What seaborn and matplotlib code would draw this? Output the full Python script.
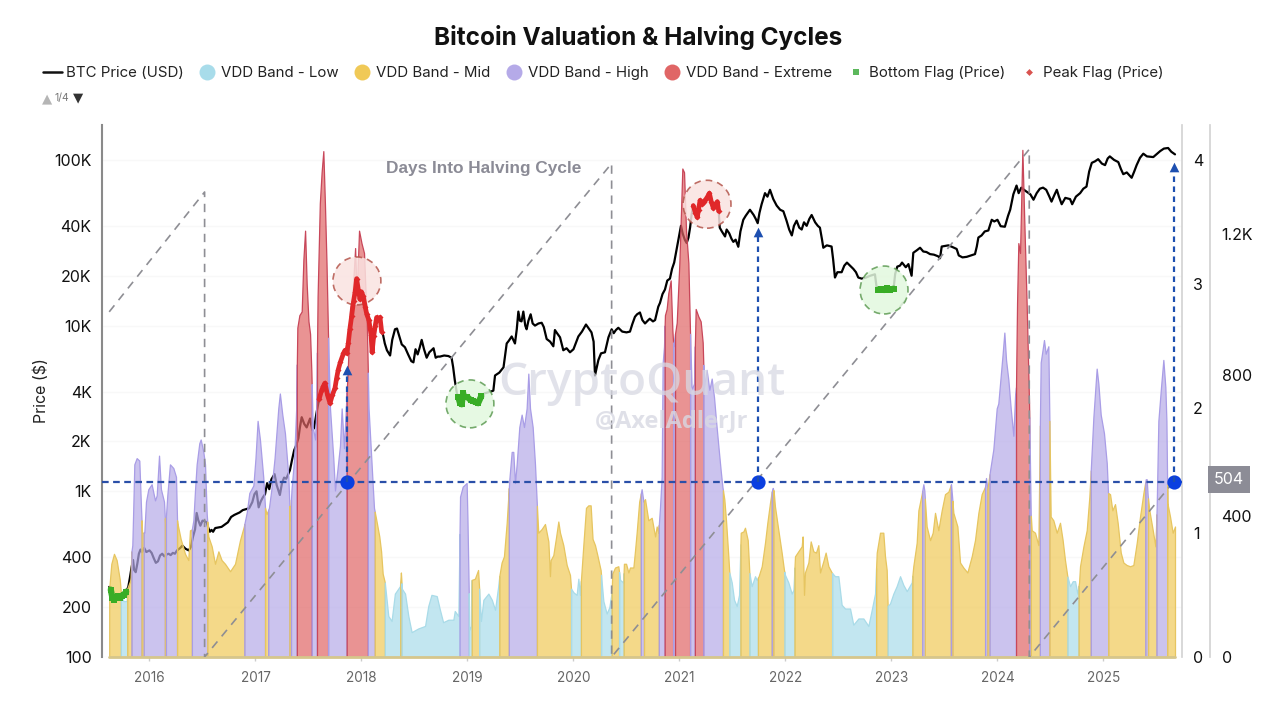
import numpy as np
import seaborn as sns
import matplotlib
matplotlib.use('Agg')
import matplotlib.pyplot as plt
from matplotlib.colors import to_rgba
from matplotlib.lines import Line2D
from matplotlib.ticker import FixedLocator, NullLocator

# BTC price (decimal year / USD)
price_years = [
    2015.62, 2015.635, 2015.65, 2015.665, 2015.68, 2015.70, 2015.72, 2015.74, 2015.76, 2015.78,
    2015.80, 2015.815, 2015.83, 2015.845, 2015.855, 2015.87, 2015.885, 2015.90, 2015.915, 2015.93,
    2015.95, 2015.97, 2016.0, 2016.02, 2016.04, 2016.06, 2016.08, 2016.10, 2016.12, 2016.14,
    2016.16, 2016.18, 2016.20, 2016.22, 2016.24, 2016.26, 2016.29, 2016.31, 2016.34, 2016.37,
    2016.39, 2016.41, 2016.43, 2016.445, 2016.46, 2016.48, 2016.50, 2016.52, 2016.54, 2016.555,
    2016.57, 2016.585, 2016.60, 2016.62, 2016.65, 2016.68, 2016.71, 2016.74, 2016.77, 2016.80,
    2016.85, 2016.88, 2016.91, 2016.94, 2016.97, 2016.99, 2017.01, 2017.03, 2017.05, 2017.07,
    2017.09, 2017.11, 2017.13, 2017.15, 2017.18, 2017.20, 2017.23, 2017.25, 2017.27, 2017.29,
    2017.325, 2017.345, 2017.365, 2017.385, 2017.405, 2017.42, 2017.436, 2017.46, 2017.483, 2017.50,
    2017.515, 2017.535, 2017.552, 2017.565, 2017.577, 2017.60, 2017.624, 2017.64, 2017.655, 2017.68,
    2017.703, 2017.725, 2017.75, 2017.765, 2017.78, 2017.80, 2017.83, 2017.845, 2017.86, 2017.875,
    2017.89, 2017.907, 2017.925, 2017.94, 2017.954, 2017.97, 2017.986, 2018.0, 2018.017, 2018.035,
    2018.05, 2018.07, 2018.09, 2018.10, 2018.115, 2018.13, 2018.143, 2018.16, 2018.175, 2018.19,
    2018.205, 2018.22, 2018.24, 2018.27, 2018.29, 2018.316, 2018.335, 2018.36, 2018.38, 2018.41,
    2018.44, 2018.47, 2018.49, 2018.51, 2018.53, 2018.55, 2018.568, 2018.59, 2018.615, 2018.64,
    2018.68, 2018.70, 2018.72, 2018.74, 2018.78, 2018.82, 2018.85, 2018.865, 2018.88, 2018.90,
    2018.914, 2018.93, 2018.945, 2018.96, 2018.98, 2019.0, 2019.03, 2019.055, 2019.08, 2019.10,
    2019.13, 2019.16, 2019.19, 2019.22, 2019.244, 2019.26, 2019.30, 2019.34, 2019.37, 2019.39,
    2019.417, 2019.448, 2019.465, 2019.48, 2019.495, 2019.51, 2019.527, 2019.545, 2019.558, 2019.575,
    2019.596, 2019.615, 2019.637, 2019.67, 2019.70, 2019.72, 2019.747, 2019.78, 2019.81, 2019.825,
    2019.845, 2019.873, 2019.904, 2019.935, 2019.967, 2020.0, 2020.03, 2020.046, 2020.08, 2020.118,
    2020.14, 2020.17, 2020.19, 2020.203, 2020.22, 2020.235, 2020.26, 2020.297, 2020.33, 2020.36,
    2020.38, 2020.40, 2020.423, 2020.46, 2020.50, 2020.533, 2020.555, 2020.58, 2020.60, 2020.627,
    2020.65, 2020.675, 2020.70, 2020.72, 2020.75, 2020.77, 2020.80, 2020.816, 2020.84, 2020.863,
    2020.885, 2020.91, 2020.93, 2020.95, 2020.974, 2020.99, 2021.014, 2021.03, 2021.05, 2021.068,
    2021.085, 2021.10, 2021.115, 2021.13, 2021.15, 2021.168, 2021.18, 2021.194, 2021.215, 2021.23,
    2021.25, 2021.265, 2021.282, 2021.30, 2021.32, 2021.34, 2021.357, 2021.37, 2021.38, 2021.40,
    2021.43, 2021.445, 2021.47, 2021.49, 2021.508, 2021.53, 2021.555, 2021.575, 2021.602, 2021.625,
    2021.665, 2021.70, 2021.72, 2021.738, 2021.755, 2021.775, 2021.79, 2021.807, 2021.83, 2021.854,
    2021.885, 2021.917, 2021.95, 2021.98, 2022.01, 2022.035, 2022.06, 2022.08, 2022.105, 2022.13,
    2022.153, 2022.175, 2022.20, 2022.225, 2022.247, 2022.28, 2022.305, 2022.325, 2022.345, 2022.357,
    2022.39, 2022.435, 2022.45, 2022.467, 2022.49, 2022.53, 2022.555, 2022.58, 2022.61, 2022.64,
    2022.665, 2022.687, 2022.72, 2022.76, 2022.80, 2022.844, 2022.86, 2022.875, 2022.90, 2022.93,
    2022.96, 2022.99, 2023.02, 2023.035, 2023.055, 2023.08, 2023.10, 2023.135, 2023.16, 2023.19,
    2023.206, 2023.24, 2023.27, 2023.30, 2023.33, 2023.364, 2023.40, 2023.44, 2023.458, 2023.474,
    2023.50, 2023.537, 2023.575, 2023.615, 2023.635, 2023.67, 2023.71, 2023.75, 2023.788, 2023.805,
    2023.82, 2023.85, 2023.88, 2023.914, 2023.946, 2023.97, 2024.0, 2024.03, 2024.07, 2024.10,
    2024.12, 2024.15, 2024.18, 2024.20, 2024.225, 2024.25, 2024.28, 2024.31, 2024.34, 2024.37,
    2024.40, 2024.43, 2024.46, 2024.49, 2024.51, 2024.535, 2024.56, 2024.58, 2024.606, 2024.64,
    2024.685, 2024.705, 2024.74, 2024.78, 2024.81, 2024.84, 2024.865, 2024.89, 2024.92, 2024.95,
    2024.985, 2025.015, 2025.04, 2025.06, 2025.10, 2025.14, 2025.165, 2025.187, 2025.22, 2025.266,
    2025.29, 2025.313, 2025.345, 2025.376, 2025.41, 2025.47, 2025.50, 2025.535, 2025.57, 2025.61,
    2025.64, 2025.675,
]
price_usd = [
    265, 255, 228, 222, 226, 232, 228, 235, 238, 248,
    265, 300, 345, 385, 335, 325, 365, 420, 445, 430,
    455, 430, 440, 425, 395, 370, 378, 410, 420, 405,
    415, 420, 412, 425, 420, 440, 455, 470, 450, 440,
    460, 530, 590, 740, 670, 620, 665, 660, 650, 600,
    570, 585, 570, 600, 605, 610, 630, 650, 700, 720,
    745, 770, 780, 790, 860, 960, 1000, 800, 870, 920,
    960, 1120, 1030, 1180, 1270, 1090, 950, 1120, 1210, 1190,
    1340, 1550, 1770, 1900, 2090, 2450, 2800, 2550, 2430, 2600,
    2750, 2350, 2400, 2700, 3000, 3600, 4070, 4300, 4500, 3800,
    3400, 3800, 4200, 4800, 5400, 6000, 6800, 7100, 6800, 7800,
    9500, 11400, 14000, 16000, 19200, 16500, 14400, 16000, 15000, 13000,
    11700, 10800, 8800, 6900, 8600, 10000, 11200, 10900, 11200, 9200,
    8700, 7800, 7100, 6600, 8200, 9500, 9600, 8500, 7700, 7400,
    6700, 6100, 6000, 7200, 6700, 7400, 8200, 7200, 6400, 6900,
    7300, 6400, 6500, 6500, 6600, 6550, 6400, 5600, 4700, 3900,
    3700, 3400, 3350, 3900, 3900, 3700, 3550, 3500, 3450, 3400,
    3750, 3900, 3950, 4000, 4050, 5000, 5200, 5600, 7800, 8100,
    8600, 7800, 9500, 12150, 10700, 10600, 12150, 10000, 9500, 10700,
    11700, 10300, 10000, 10300, 10400, 9800, 8300, 8000, 7500, 9400,
    9000, 8500, 7100, 7300, 6900, 7200, 8100, 8600, 9200, 10150,
    9700, 9100, 8000, 5000, 5600, 6200, 6800, 6900, 8500, 9500,
    9000, 9400, 9700, 9200, 9100, 9200, 10200, 11300, 11700, 12000,
    10800, 10300, 10700, 11000, 10600, 10800, 13000, 13700, 15500, 16500,
    18700, 19200, 22000, 24000, 29000, 33000, 40000, 36000, 33000, 31500,
    34000, 39000, 47000, 53000, 48000, 45000, 50000, 57000, 54000, 56000,
    58000, 60000, 63000, 56000, 51000, 54000, 56000, 49000, 39000, 37000,
    34500, 38000, 36000, 33500, 32000, 33000, 29900, 37000, 43500, 46000,
    50000, 46500, 44000, 41500, 48000, 54000, 58000, 63000, 60000, 66000,
    58000, 53000, 50000, 49000, 43000, 38000, 35000, 40000, 43000, 39000,
    38000, 42000, 40000, 44000, 46500, 42000, 40000, 39000, 33000, 29500,
    30500, 30000, 25000, 19500, 21000, 21000, 23000, 24000, 23000, 22000,
    21000, 19500, 19200, 19500, 20000, 20400, 17000, 16500, 16600, 16400,
    16800, 16500, 16700, 20500, 22700, 23000, 24000, 22500, 23500, 20000,
    27500, 28500, 29500, 28000, 27800, 27000, 26800, 26200, 25500, 30000,
    30200, 30500, 29800, 29000, 26500, 25800, 26000, 26500, 27000, 30000,
    34000, 35000, 37000, 37500, 43500, 42500, 43500, 39800, 39500, 46000,
    50000, 62000, 70000, 63000, 68000, 66000, 64000, 62000, 57500, 63000,
    67000, 68000, 66000, 60000, 56000, 61000, 66000, 60000, 54000, 59000,
    58000, 54000, 60000, 63000, 67000, 69000, 85000, 96000, 98000, 101000,
    95000, 93000, 102000, 105000, 100000, 97000, 88000, 82000, 84000, 78000,
    85000, 93000, 103000, 109000, 105000, 104000, 108000, 113000, 117000, 118000,
    112000, 108000,
]

# VDD multiple
vdd_years = [
    2015.62, 2015.64, 2015.665, 2015.69, 2015.72, 2015.73, 2015.753, 2015.785, 2015.79, 2015.82,
    2015.83, 2015.838, 2015.847, 2015.857, 2015.879, 2015.904, 2015.92, 2015.93, 2015.951, 2015.967,
    2015.989, 2016.02, 2016.052, 2016.068, 2016.09, 2016.108, 2016.137, 2016.149, 2016.168, 2016.193,
    2016.225, 2016.25, 2016.26, 2016.263, 2016.294, 2016.335, 2016.366, 2016.382, 2016.398, 2016.414,
    2016.43, 2016.445, 2016.47, 2016.483, 2016.508, 2016.524, 2016.54, 2016.555, 2016.587, 2016.618,
    2016.65, 2016.68, 2016.712, 2016.76, 2016.807, 2016.854, 2016.89, 2016.917, 2016.942, 2016.98,
    2017.0, 2017.02, 2017.042, 2017.073, 2017.09, 2017.105, 2017.127, 2017.15, 2017.18, 2017.215,
    2017.23, 2017.253, 2017.278, 2017.31, 2017.325, 2017.34, 2017.365, 2017.384, 2017.395, 2017.414,
    2017.436, 2017.452, 2017.468, 2017.483, 2017.5, 2017.515, 2017.527, 2017.54, 2017.562, 2017.574,
    2017.586, 2017.607, 2017.624, 2017.64, 2017.655, 2017.67, 2017.684, 2017.703, 2017.734, 2017.75,
    2017.772, 2017.797, 2017.813, 2017.835, 2017.854, 2017.87, 2017.892, 2017.914, 2017.94, 2017.954,
    2017.977, 2018.0, 2018.024, 2018.04, 2018.05, 2018.067, 2018.086, 2018.105, 2018.118, 2018.136,
    2018.168, 2018.185, 2018.2, 2018.22, 2018.253, 2018.284, 2018.315, 2018.347, 2018.363, 2018.372,
    2018.381, 2018.411, 2018.442, 2018.473, 2018.536, 2018.6, 2018.63, 2018.66, 2018.71, 2018.74,
    2018.77, 2018.82, 2018.867, 2018.88, 2018.914, 2018.93, 2018.955, 2018.992, 2019.0, 2019.018,
    2019.034, 2019.04, 2019.07, 2019.10, 2019.11, 2019.127, 2019.15, 2019.197, 2019.23, 2019.26,
    2019.29, 2019.30, 2019.322, 2019.344, 2019.37, 2019.385, 2019.395, 2019.417, 2019.432, 2019.448,
    2019.464, 2019.489, 2019.511, 2019.533, 2019.558, 2019.574, 2019.59, 2019.615, 2019.637, 2019.653,
    2019.668, 2019.70, 2019.731, 2019.763, 2019.778, 2019.785, 2019.81, 2019.835, 2019.857, 2019.873,
    2019.904, 2019.936, 2019.967, 2019.977, 2020.0, 2020.03, 2020.046, 2020.061, 2020.077, 2020.093,
    2020.118, 2020.14, 2020.162, 2020.18, 2020.203, 2020.225, 2020.256, 2020.282, 2020.313, 2020.338,
    2020.36, 2020.366, 2020.392, 2020.423, 2020.44, 2020.47, 2020.476, 2020.496, 2020.518, 2020.533,
    2020.565, 2020.58, 2020.596, 2020.62, 2020.643, 2020.66, 2020.675, 2020.706, 2020.738, 2020.77,
    2020.785, 2020.80, 2020.816, 2020.832, 2020.841, 2020.854, 2020.863, 2020.879, 2020.895, 2020.917,
    2020.933, 2020.942, 2020.958, 2020.974, 2020.999, 2021.014, 2021.027, 2021.043, 2021.062, 2021.084,
    2021.099, 2021.115, 2021.137, 2021.153, 2021.178, 2021.20, 2021.219, 2021.231, 2021.256, 2021.282,
    2021.304, 2021.326, 2021.345, 2021.37, 2021.389, 2021.405, 2021.423, 2021.439, 2021.461, 2021.47,
    2021.493, 2021.515, 2021.54, 2021.562, 2021.578, 2021.603, 2021.618, 2021.644, 2021.659, 2021.681,
    2021.713, 2021.728, 2021.747, 2021.776, 2021.807, 2021.829, 2021.854, 2021.87, 2021.88, 2021.889,
    2021.901, 2021.933, 2021.964, 2021.986, 2021.996, 2022.027, 2022.059, 2022.075, 2022.09, 2022.121,
    2022.153, 2022.162, 2022.175, 2022.184, 2022.216, 2022.238, 2022.263, 2022.288, 2022.31, 2022.326,
    2022.357, 2022.379, 2022.405, 2022.436, 2022.467, 2022.499, 2022.53, 2022.562, 2022.609, 2022.64,
    2022.688, 2022.735, 2022.782, 2022.814, 2022.845, 2022.861, 2022.892, 2022.923, 2022.939, 2022.955,
    2022.964, 2022.986, 2023.018, 2023.049, 2023.081, 2023.112, 2023.144, 2023.191, 2023.206, 2023.238,
    2023.254, 2023.285, 2023.301, 2023.31, 2023.332, 2023.364, 2023.389, 2023.411, 2023.442, 2023.474,
    2023.505, 2023.537, 2023.562, 2023.571, 2023.584, 2023.622, 2023.647, 2023.678, 2023.716, 2023.757,
    2023.788, 2023.82, 2023.851, 2023.883, 2023.892, 2023.905, 2023.93, 2023.961, 2023.993, 2024.008,
    2024.049, 2024.065, 2024.081, 2024.103, 2024.125, 2024.15, 2024.166, 2024.175, 2024.185, 2024.197,
    2024.213, 2024.235, 2024.251, 2024.276, 2024.298, 2024.314, 2024.323, 2024.354, 2024.386, 2024.402,
    2024.408, 2024.439, 2024.455, 2024.48, 2024.49, 2024.502, 2024.527, 2024.559, 2024.59, 2024.615,
    2024.637, 2024.659, 2024.685, 2024.71, 2024.732, 2024.754, 2024.77, 2024.779, 2024.811, 2024.842,
    2024.867, 2024.88, 2024.905, 2024.936, 2024.952, 2024.974, 2025.005, 2025.031, 2025.043, 2025.062,
    2025.084, 2025.109, 2025.134, 2025.163, 2025.188, 2025.219, 2025.251, 2025.282, 2025.314, 2025.345,
    2025.377, 2025.399, 2025.408, 2025.417, 2025.433, 2025.465, 2025.49, 2025.502, 2025.518, 2025.543,
    2025.565, 2025.584, 2025.594, 2025.603, 2025.628, 2025.653, 2025.675,
]
vdd_values = [
    0.55, 0.75, 0.83, 0.78, 0.62, 0.52, 0.45, 0.45, 0.55, 0.62,
    0.85, 0.90, 1.20, 1.55, 1.60, 1.58, 1.20, 1.00, 1.00, 1.25,
    1.35, 1.39, 1.26, 1.30, 1.62, 1.35, 1.25, 1.05, 1.30, 1.55,
    1.52, 1.45, 1.10, 1.08, 0.95, 0.83, 0.78, 1.02, 1.02, 1.10,
    1.35, 1.55, 1.72, 1.75, 1.65, 1.55, 1.15, 0.97, 0.89, 0.75,
    0.85, 0.78, 0.75, 0.69, 0.75, 0.94, 1.05, 1.16, 1.32, 1.38,
    1.60, 1.90, 1.75, 1.45, 1.20, 1.15, 1.20, 1.35, 1.60, 2.00,
    2.12, 1.95, 1.80, 1.45, 1.10, 1.35, 1.60, 2.00, 2.65, 2.75,
    2.78, 3.20, 3.43, 3.00, 2.70, 2.60, 2.30, 1.85, 1.75, 2.00,
    2.90, 3.65, 3.90, 4.07, 3.65, 3.17, 2.60, 2.00, 1.60, 1.34,
    1.50, 1.70, 2.00, 1.68, 2.03, 2.30, 2.80, 2.90, 3.29, 2.90,
    3.43, 3.33, 3.25, 2.90, 2.70, 2.00, 1.70, 1.40, 1.20, 1.12,
    0.97, 0.85, 0.67, 0.60, 0.33, 0.29, 0.51, 0.55, 0.57, 0.68,
    0.55, 0.51, 0.33, 0.20, 0.23, 0.25, 0.41, 0.50, 0.49, 0.38,
    0.28, 0.30, 0.30, 0.37, 0.33, 1.29, 1.37, 1.40, 1.10, 0.22,
    0.25, 0.62, 0.63, 0.70, 0.55, 0.29, 0.46, 0.51, 0.46, 0.38,
    0.57, 0.65, 0.76, 0.81, 1.08, 1.29, 1.43, 1.65, 1.65, 1.40,
    1.55, 1.85, 1.95, 1.85, 2.00, 2.28, 2.00, 1.85, 1.55, 1.25,
    1.00, 1.03, 1.07, 0.93, 0.65, 0.78, 0.82, 0.96, 1.09, 1.00,
    0.90, 0.74, 0.66, 0.55, 0.52, 0.50, 0.63, 0.50, 0.70, 0.90,
    1.20, 1.22, 1.22, 0.95, 0.90, 0.82, 0.70, 0.45, 0.35, 0.40,
    0.52, 0.67, 0.72, 0.73, 0.62, 0.60, 0.75, 0.75, 0.68, 0.72,
    0.72, 0.85, 1.00, 1.25, 1.35, 1.25, 1.27, 1.10, 1.12, 0.97,
    1.05, 1.00, 1.20, 1.45, 2.36, 2.50, 2.75, 2.80, 2.93, 3.03,
    2.63, 2.50, 2.60, 2.69, 3.17, 3.57, 3.93, 3.90, 3.43, 3.17,
    2.63, 2.15, 2.20, 2.80, 2.74, 2.70, 2.53, 2.17, 2.31, 2.15,
    2.24, 2.09, 1.90, 1.67, 1.50, 1.37, 1.27, 1.10, 0.81, 0.68,
    0.60, 0.46, 0.41, 0.50, 1.00, 1.01, 1.04, 0.94, 0.68, 0.57,
    0.65, 0.62, 0.65, 0.73, 0.92, 1.08, 1.24, 1.33, 1.36, 1.33,
    1.21, 1.02, 0.84, 0.70, 0.66, 0.60, 0.51, 0.54, 0.81, 0.85,
    0.89, 0.97, 0.50, 0.68, 0.76, 0.93, 0.85, 0.84, 0.90, 0.68,
    0.77, 0.84, 0.73, 0.68, 0.65, 0.65, 0.42, 0.39, 0.39, 0.26,
    0.31, 0.31, 0.25, 0.38, 0.51, 0.84, 1.00, 1.00, 0.81, 0.70,
    0.41, 0.43, 0.51, 0.57, 0.65, 0.58, 0.53, 0.60, 0.73, 0.92,
    1.18, 1.31, 1.39, 1.34, 1.05, 0.94, 1.00, 1.16, 1.02, 1.18,
    1.31, 1.33, 1.39, 1.30, 1.16, 1.05, 0.76, 0.72, 0.68, 0.81,
    0.94, 1.16, 1.31, 1.37, 1.44, 1.35, 1.50, 1.67, 2.00, 2.04,
    2.44, 2.61, 2.39, 2.23, 2.00, 1.78, 2.10, 2.17, 2.85, 3.33,
    3.25, 4.08, 3.57, 2.82, 2.04, 1.15, 1.02, 1.00, 0.90, 2.00,
    2.37, 2.55, 2.44, 2.50, 1.90, 1.13, 1.10, 1.00, 1.08, 0.94,
    0.78, 0.65, 0.57, 0.61, 0.61, 0.51, 0.60, 0.73, 0.89, 1.02,
    1.29, 1.50, 1.93, 2.32, 2.20, 1.95, 1.80, 1.56, 1.32, 1.31,
    1.18, 1.23, 1.08, 0.84, 0.76, 0.74, 0.73, 0.74, 0.92, 1.13,
    1.32, 1.43, 1.43, 1.30, 1.18, 1.02, 0.89, 1.20, 1.90, 2.17,
    2.39, 2.17, 1.90, 1.24, 1.13, 1.00, 1.05,
]
# which band is active from each start year on
band_starts = [
    2015.62, 2015.73, 2015.79, 2015.83, 2015.925, 2015.945, 2016.145, 2016.155, 2016.26, 2016.40,
    2016.545, 2016.895, 2017.09, 2017.12, 2017.32, 2017.335, 2017.39, 2017.53, 2017.58, 2017.685,
    2017.86, 2018.06, 2018.125, 2018.22, 2018.366, 2018.378, 2018.925, 2019.012, 2019.04, 2019.11,
    2019.30, 2019.39, 2019.655, 2019.977, 2020.07, 2020.26, 2020.36, 2020.43, 2020.473, 2020.635,
    2020.665, 2020.805, 2020.86, 2020.94, 2020.958, 2021.10, 2021.145, 2021.225, 2021.41, 2021.47,
    2021.575, 2021.66, 2021.74, 2021.87, 2021.885, 2021.99, 2022.085, 2022.44, 2022.855, 2022.964,
    2023.197, 2023.29, 2023.315, 2023.56, 2023.575, 2023.883, 2023.905, 2023.925, 2024.175, 2024.30,
    2024.315, 2024.40, 2024.49, 2024.66, 2024.765, 2024.88, 2025.045, 2025.395, 2025.42, 2025.50,
    2025.601,
]
band_names = [
    'Mid', 'Low', 'Mid', 'High', 'Mid', 'High', 'Mid', 'High', 'Mid', 'High',
    'Mid', 'High', 'Mid', 'High', 'Mid', 'High', 'Extreme', 'High', 'Extreme', 'High',
    'Extreme', 'High', 'Mid', 'Low', 'Mid', 'Low', 'High', 'Low', 'Mid', 'Low',
    'Mid', 'High', 'Mid', 'Low', 'Mid', 'Low', 'Mid', 'Low', 'Mid', 'High',
    'Mid', 'High', 'Extreme', 'High', 'Extreme', 'High', 'Extreme', 'High', 'Mid', 'Low',
    'Mid', 'Low', 'Mid', 'High', 'Mid', 'Low', 'Mid', 'Low', 'Mid', 'Low',
    'Mid', 'High', 'Mid', 'High', 'Mid', 'High', 'Mid', 'High', 'Extreme', 'High',
    'Mid', 'High', 'Mid', 'Low', 'Mid', 'High', 'Mid', 'High', 'Mid', 'High',
    'Mid',
]

# days into halving cycle (straight runs, reset at each halving)
cycle_years = [2015.62, 2016.52, 2016.52, 2020.36, 2020.36, 2024.30, 2024.30, 2025.675]
cycle_days = [979, 1319, 0, 1400, 0, 1440, 0, 502]
cycle_mark_days = 497
cycle_mark_label = '504'
mark_years = [2017.866, 2021.74, 2025.665]
mark_price_from = [1137, 1137, 1137]
mark_price_to = [5400, 36500, 90500]

bottom_flag_windows = [(2015.635, 2015.78), (2018.914, 2018.96), (2019.0, 2019.13), (2022.865, 2023.03)]
peak_flag_windows = [(2017.59, 2018.20), (2021.13, 2021.375)]
circle_years = [2017.957, 2021.26, 2019.023, 2022.93]
circle_prices = [18600, 54000, 3370, 16400]
circle_fills = ['#fae3e1', '#fae3e1', '#e2f8de', '#e2f8de']
circle_edges = ['#b4564c', '#b4564c', '#5f9c55', '#5f9c55']

year_ticks = [2016, 2017, 2018, 2019, 2020, 2021, 2022, 2023, 2024, 2025]
price_ticks = [100, 200, 400, 1000, 2000, 4000, 10000, 20000, 40000, 100000]
price_tick_labels = ['100', '200', '400', '1K', '2K', '4K', '10K', '20K', '40K', '100K']
vdd_ticks = [0, 1, 2, 3, 4]
day_ticks = [0, 400, 800, 1200]
day_tick_labels = ['0', '400', '800', '1.2K']

band_fill = {'Low': '#a8dcea', 'Mid': '#f0c957', 'High': '#b5aae8', 'Extreme': '#e06666'}
band_edge = {'Low': '#a9dbe8', 'Mid': '#e6c560', 'High': '#a99de6', 'Extreme': '#c8475a'}

sns.set_theme(style='white', rc={'figure.facecolor': 'white', 'axes.facecolor': 'white'})
plt.rcParams['font.family'] = ['Inter', 'DejaVu Sans']


def draw_bands(ax_band):
    '''Fills every band run from the vdd series, split at the band starts'''
    vdd_x = np.array(vdd_years)
    vdd_y = np.array(vdd_values)
    stops = band_starts[1:] + [vdd_years[-1]]
    for start, stop, name in zip(band_starts, stops, band_names):
        inside = vdd_x[(vdd_x > start) & (vdd_x < stop)]
        xs = np.concatenate([[start], inside, [stop]])
        ys = np.interp(xs, vdd_x, vdd_y)
        ax_band.fill_between(xs, 0, ys, facecolor=to_rgba(band_fill[name], 0.7),
                             edgecolor=band_edge[name], linewidth=0.9)


def draw_flags(ax_flags, windows, color, marker, width):
    '''Thick marked stretches of the price line inside the flag windows'''
    years = np.array(price_years)
    prices = np.array(price_usd)
    for start, stop in windows:
        keep = (years >= start) & (years <= stop)
        sns.lineplot(x=years[keep], y=prices[keep], ax=ax_flags, color=color, linewidth=width,
                     marker=marker, markersize=width * 0.9, markeredgewidth=0,
                     estimator=None, sort=False, legend=False)


fig = plt.figure(figsize=(12.8, 7.22), dpi=100)
ax = fig.add_axes([102 / 1280, 65 / 722, 1080 / 1280, 532 / 722])
ax_band = ax.twinx()
ax_days = ax.twinx()
ax_flags = ax.twinx()
ax.set_zorder(1)
ax_band.set_zorder(2)
ax_days.set_zorder(3)
ax_flags.set_zorder(4)

# price sits under the translucent bands
ax.set_yscale('log')
ax_flags.set_yscale('log')
sns.lineplot(x=price_years, y=price_usd, ax=ax, color='black', linewidth=1.6,
             estimator=None, sort=False, legend=False)
ax.grid(axis='y', color='#f8f8f8', linewidth=1)

draw_bands(ax_band)
ax_band.plot([vdd_years[0], vdd_years[-1]], [0, 0], color='#d6c68c', linewidth=2, clip_on=False)

sns.lineplot(x=cycle_years, y=cycle_days, ax=ax_days, color='#8e8e94', linewidth=1.2,
             linestyle=(0, (5, 4)), estimator=None, sort=False, legend=False)
ax_days.axhline(cycle_mark_days, color='#2a4fa8', linewidth=1.6, linestyle=(0, (3, 2)))

# circles behind flags
sns.scatterplot(x=circle_years, y=circle_prices, ax=ax_flags, s=1190, c=circle_fills,
                edgecolor=circle_edges, linewidth=1.2, linestyle=(0, (4, 3)), alpha=0.85, legend=False)
draw_flags(ax_flags, bottom_flag_windows, '#39ad26', 's', 4.5)
draw_flags(ax_flags, peak_flag_windows, '#e0282a', 'D', 3.4)

for year, low, high in zip(mark_years, mark_price_from, mark_price_to):
    ax_flags.plot([year, year], [low, high], color='#1d4fb0', linewidth=1.6, linestyle=(0, (2.5, 2)))
sns.scatterplot(x=mark_years, y=mark_price_to, ax=ax_flags, marker='^', s=48, color='#1d4fb0',
                linewidth=0, legend=False)
sns.scatterplot(x=mark_years, y=[cycle_mark_days] * 3, ax=ax_days, s=105, color='#0b3fe0',
                linewidth=0, legend=False, clip_on=False, zorder=6)

ax.set_xlim(2015.552, 2025.741)
ax.set_ylim(100, 162400)
ax_flags.set_ylim(100, 162400)
ax_band.set_ylim(0, 4.28)
ax_days.set_ylim(0, 1509)

ax.xaxis.set_major_locator(FixedLocator(year_ticks))
ax.set_xticklabels([str(y) for y in year_ticks])
ax.tick_params(axis='x', length=3, width=1, color='#cccccc', labelcolor='#666666', labelsize=9.8, pad=7, bottom=True)
ax.yaxis.set_major_locator(FixedLocator(price_ticks))
ax.yaxis.set_minor_locator(NullLocator())
ax.set_yticklabels(price_tick_labels)
ax.tick_params(axis='y', length=0, labelcolor='#111111', labelsize=11.5, pad=7.5)
ax.set_xlabel('')
ax.set_ylabel('Price ($)', fontsize=11.5, color='#222222', labelpad=4)

ax_band.yaxis.set_major_locator(FixedLocator(vdd_ticks))
ax_band.tick_params(axis='y', length=0, labelcolor='#111111', labelsize=11.5, pad=8)
ax_band.set_ylabel('')
ax_days.yaxis.set_major_locator(FixedLocator(day_ticks))
ax_days.set_yticklabels(day_tick_labels)
ax_days.tick_params(axis='y', length=0, labelcolor='#111111', labelsize=11.5, pad=8.5)
ax_days.spines['right'].set_position(('outward', 20))
ax_days.set_ylabel('')
ax_flags.yaxis.set_major_locator(NullLocator())
ax_flags.yaxis.set_minor_locator(NullLocator())
ax_flags.set_ylabel('')

for a in [ax, ax_band, ax_days, ax_flags]:
    a.spines['top'].set_visible(False)
    a.spines['bottom'].set_visible(False)
    a.spines['left'].set_visible(False)
    a.spines['right'].set_visible(False)
ax.spines['left'].set_visible(True)
ax.spines['left'].set_color('#8a8a8a')
ax.spines['left'].set_linewidth(1.5)
ax_band.spines['right'].set_visible(True)
ax_band.spines['right'].set_color('#d4d4d4')
ax_days.spines['right'].set_visible(True)
ax_days.spines['right'].set_color('#d4d4d4')

ax_days.annotate(cycle_mark_label, xy=(1, 504), xycoords=('axes fraction', 'data'),
                 xytext=(34, 0), textcoords='offset points', ha='center', va='center',
                 color='white', fontsize=11.5, annotation_clip=False,
                 bbox=dict(boxstyle='square,pad=0.38', facecolor='#8c8c96', edgecolor='none'))

fig.text(638 / 1280, 1 - 38 / 722, 'Bitcoin Valuation & Halving Cycles', ha='center', va='center',
         fontsize=17.5, fontweight='bold', color='#111111')
fig.text(484 / 1280, 1 - 169 / 722, 'Days Into Halving Cycle', ha='center', va='center',
         fontsize=12.4, fontweight='bold', color='#8b8b96', family=['Liberation Sans'])

# watermark
fig.text(642 / 1280, 1 - 384 / 722, 'CryptoQuant', ha='center', va='center', fontsize=33,
         fontweight='semibold', color='#d8d9e3', alpha=0.75, family=['Open Sans'], zorder=5)
fig.text(672 / 1280, 1 - 421 / 722, '@AxelAdlerJr', ha='center', va='center', fontsize=17,
         fontweight='bold', color='#d8d9e3', alpha=0.8, family=['Open Sans'], zorder=5)

legend_handles = [
    Line2D([], [], color='#111111', linewidth=1.8),
    Line2D([], [], linestyle='none', marker='o', markersize=11.5, markeredgewidth=0, color=band_fill['Low']),
    Line2D([], [], linestyle='none', marker='o', markersize=11.5, markeredgewidth=0, color=band_fill['Mid']),
    Line2D([], [], linestyle='none', marker='o', markersize=11.5, markeredgewidth=0, color=band_fill['High']),
    Line2D([], [], linestyle='none', marker='o', markersize=11.5, markeredgewidth=0, color=band_fill['Extreme']),
    Line2D([], [], linestyle='none', marker='s', markersize=4.5, markeredgewidth=0, color='#5cb85c'),
    Line2D([], [], linestyle='none', marker='D', markersize=3.5, markeredgewidth=0, color='#d9534f'),
]
legend_labels = ['BTC Price (USD)', 'VDD Band - Low', 'VDD Band - Mid', 'VDD Band - High',
                 'VDD Band - Extreme', 'Bottom Flag (Price)', 'Peak Flag (Price)']
fig.legend(legend_handles, legend_labels, loc='center', bbox_to_anchor=(603 / 1280, 1 - 73 / 722),
           ncol=7, frameon=False, fontsize=10.8, handletextpad=0.27, columnspacing=0.95, handlelength=1.27,
           labelcolor='#222222')

# legend pager
fig.text(47 / 1280, 1 - 99 / 722, '\u25b2', ha='center', va='center', fontsize=9.5, color='#b5b5b5', family=['DejaVu Sans'])
fig.text(62 / 1280, 1 - 98 / 722, '1/4', ha='center', va='center', fontsize=7.5, color='#777777')
fig.text(78 / 1280, 1 - 98 / 722, '\u25bc', ha='center', va='center', fontsize=9.5, color='#333333', family=['DejaVu Sans'])

fig.savefig('out.png', dpi=100)
